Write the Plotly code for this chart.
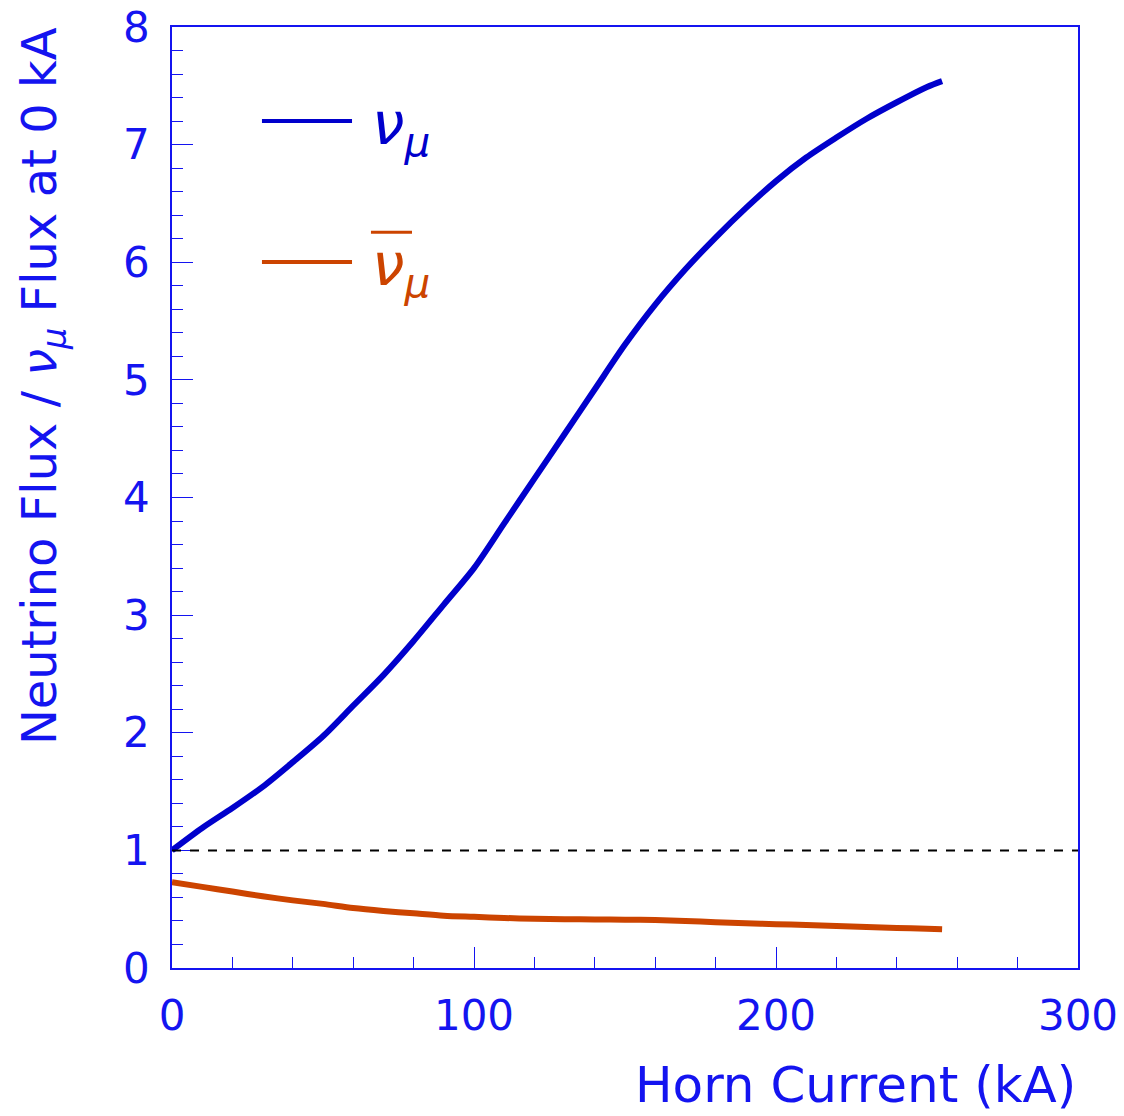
import plotly.graph_objects as go

# ---- data ----
current_ka = [0, 10, 20, 30, 40, 50, 60, 70, 80, 90, 100, 110, 120, 130, 140,
              150, 160, 170, 180, 190, 200, 210, 220, 230, 240, 250, 255]
numu_ratio = [1.00, 1.19, 1.36, 1.54, 1.75, 1.97, 2.23, 2.49, 2.78, 3.09, 3.40,
              3.78, 4.16, 4.54, 4.92, 5.30, 5.64, 5.94, 6.21, 6.46, 6.69, 6.89,
              7.06, 7.22, 7.36, 7.49, 7.54]
numubar_ratio = [0.73, 0.69, 0.65, 0.61, 0.575, 0.545, 0.51, 0.485, 0.465, 0.445,
                 0.435, 0.425, 0.418, 0.414, 0.413, 0.411, 0.408, 0.400, 0.390,
                 0.381, 0.373, 0.365, 0.357, 0.349, 0.341, 0.333, 0.329]
reference_level = 1.0
x_tick_vals = [0, 100, 200, 300]
y_tick_vals = [0, 1, 2, 3, 4, 5, 6, 7, 8]

BLUE_LINE = "#0000CC"
ORANGE_LINE = "#CC4400"
AXIS_BLUE = "#1414F0"
FONT = "DejaVu Sans"

fig = go.Figure()
fig.add_trace(go.Scatter(x=current_ka, y=numu_ratio, mode="lines",
                         line=dict(color=BLUE_LINE, width=6, shape="spline", smoothing=0.8),
                         showlegend=False))
fig.add_trace(go.Scatter(x=current_ka, y=numubar_ratio, mode="lines",
                         line=dict(color=ORANGE_LINE, width=6, shape="spline", smoothing=0.8),
                         showlegend=False))
fig.add_hline(y=reference_level, line=dict(color="black", width=2, dash="dash"))

axis_common = dict(
    showgrid=False, zeroline=False, showline=True, linecolor=AXIS_BLUE,
    linewidth=1.5, mirror=True, ticks="inside", ticklen=21, tickwidth=1,
    tickcolor=AXIS_BLUE, tickfont=dict(family=FONT, size=42, color=AXIS_BLUE),
    automargin=False,
)
fig.update_xaxes(range=[0, 300], tickvals=x_tick_vals, ticklabelstandoff=10,
                 minor=dict(dtick=20, ticks="inside", ticklen=11, tickwidth=1,
                            tickcolor=AXIS_BLUE, showgrid=False),
                 **axis_common)
fig.update_yaxes(range=[0, 8], tickvals=y_tick_vals, ticklabelstandoff=12,
                 minor=dict(dtick=0.2, ticks="inside", ticklen=11, tickwidth=1,
                            tickcolor=AXIS_BLUE, showgrid=False),
                 **axis_common)

# legend samples
fig.add_shape(type="line", xref="paper", yref="paper", x0=0.0993, x1=0.1987,
              y0=0.9001, y1=0.9001, line=dict(color=BLUE_LINE, width=4))
fig.add_shape(type="line", xref="paper", yref="paper", x0=0.0993, x1=0.1987,
              y0=0.7503, y1=0.7503, line=dict(color=ORANGE_LINE, width=4))
fig.add_shape(type="line", xref="paper", yref="paper", x0=0.2196, x1=0.2649,
              y0=0.782, y1=0.782, line=dict(color=ORANGE_LINE, width=3))

fig.add_annotation(xref="paper", yref="paper", x=0.219, y=0.893,
                   xanchor="left", yanchor="middle", showarrow=False,
                   text="<i>ν</i><sub><i>μ</i></sub>",
                   font=dict(family=FONT, size=58, color=BLUE_LINE))
fig.add_annotation(xref="paper", yref="paper", x=0.219, y=0.743,
                   xanchor="left", yanchor="middle", showarrow=False,
                   text="<i>ν</i><sub><i>μ</i></sub>",
                   font=dict(family=FONT, size=58, color=ORANGE_LINE))

# axis titles
fig.add_annotation(xref="paper", yref="paper", x=1.0, y=-0.124,
                   xanchor="right", yanchor="middle", showarrow=False,
                   text="Horn Current (kA)",
                   font=dict(family=FONT, size=50, color=AXIS_BLUE))
fig.add_annotation(xref="paper", yref="paper", x=-0.1435, y=1.002,
                   xanchor="center", yanchor="top", showarrow=False, textangle=-90,
                   text="Neutrino Flux / <i>ν</i><sub><i>μ</i></sub> Flux at 0 kA",
                   font=dict(family=FONT, size=48, color=AXIS_BLUE))

fig.update_layout(
    width=1124, height=1116,
    margin=dict(l=172, r=46, t=27, b=148),
    paper_bgcolor="white", plot_bgcolor="white",
    showlegend=False,
)

fig.write_html("out.html")
